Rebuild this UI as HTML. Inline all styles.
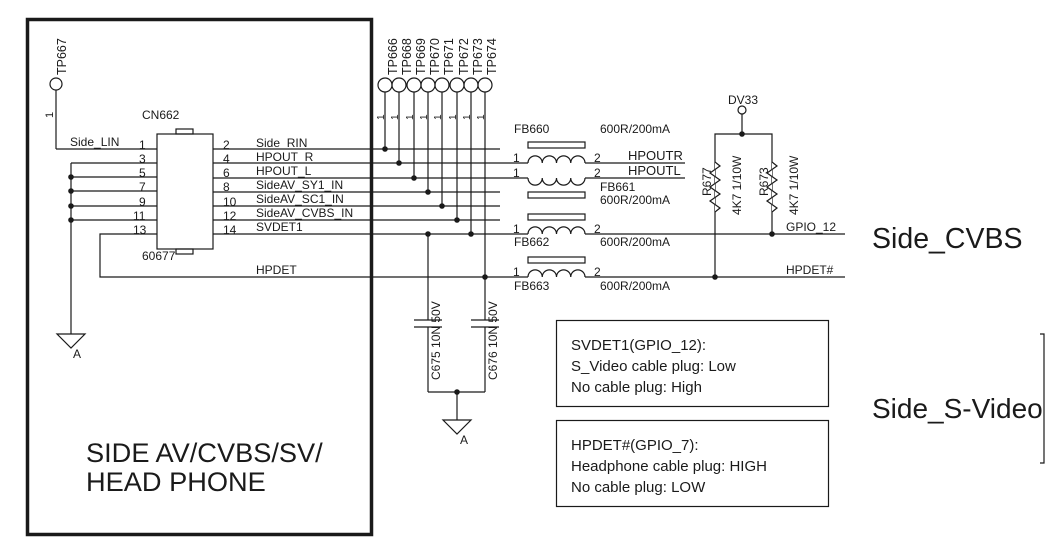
<!DOCTYPE html>
<html><head><meta charset="utf-8"><style>
html,body{margin:0;padding:0;background:#fff;}
svg{display:block;}
text{font-family:"Liberation Sans",Arial,sans-serif;fill:#1a1a1a;}
</style></head><body>
<svg width="1047" height="553" viewBox="0 0 1047 553" xmlns="http://www.w3.org/2000/svg">
<rect width="1047" height="553" fill="#fff"/>
<rect x="27.5" y="19.5" width="344" height="515" fill="none" stroke="#1a1a1a" stroke-width="3.5"/>
<g stroke="#1a1a1a" stroke-width="1.2" fill="none">
<circle cx="56" cy="84" r="6"/>
<line x1="56" y1="90" x2="56" y2="149"/>
<line x1="56" y1="149" x2="157" y2="149"/>
<rect x="157" y="134" width="56" height="115"/>
<rect x="176" y="129" width="17" height="5"/>
<rect x="176" y="249" width="17" height="5"/>
<line x1="71" y1="163" x2="157" y2="163"/>
<line x1="71" y1="177" x2="157" y2="177"/>
<line x1="71" y1="191" x2="157" y2="191"/>
<line x1="71" y1="206" x2="157" y2="206"/>
<line x1="71" y1="220" x2="157" y2="220"/>
<line x1="71" y1="163" x2="71" y2="334"/>
<path d="M57 334 L85 334 L71 348 Z"/>
<polyline points="157,234 100,234 100,277 528,277"/>
<line x1="585" y1="277" x2="845" y2="277"/>
<line x1="213" y1="149" x2="500" y2="149"/>
<line x1="213" y1="163" x2="528" y2="163"/>
<line x1="213" y1="178" x2="528" y2="178"/>
<line x1="213" y1="192" x2="500" y2="192"/>
<line x1="213" y1="206" x2="500" y2="206"/>
<line x1="213" y1="220" x2="500" y2="220"/>
<line x1="213" y1="234" x2="528" y2="234"/>
<line x1="585" y1="163" x2="685" y2="163"/>
<line x1="585" y1="178" x2="685" y2="178"/>
<line x1="585" y1="234" x2="845" y2="234"/>
<circle cx="385" cy="85" r="7"/><circle cx="399" cy="85" r="7"/><circle cx="414" cy="85" r="7"/><circle cx="428" cy="85" r="7"/>
<circle cx="442" cy="85" r="7"/><circle cx="457" cy="85" r="7"/><circle cx="471" cy="85" r="7"/><circle cx="485" cy="85" r="7"/>
<line x1="385" y1="92" x2="385" y2="149"/>
<line x1="399" y1="92" x2="399" y2="163"/>
<line x1="414" y1="92" x2="414" y2="178"/>
<line x1="428" y1="92" x2="428" y2="192"/>
<line x1="442" y1="92" x2="442" y2="206"/>
<line x1="457" y1="92" x2="457" y2="220"/>
<line x1="471" y1="92" x2="471" y2="234"/>
<line x1="485" y1="92" x2="485" y2="277"/>
<line x1="428" y1="234" x2="428" y2="320"/>
<line x1="414" y1="320" x2="442" y2="320"/>
<line x1="414" y1="327" x2="442" y2="327"/>
<line x1="428" y1="327" x2="428" y2="392"/>
<line x1="485" y1="277" x2="485" y2="320"/>
<line x1="471" y1="320" x2="499" y2="320"/>
<line x1="471" y1="327" x2="499" y2="327"/>
<line x1="485" y1="327" x2="485" y2="392"/>
<line x1="428" y1="392" x2="485" y2="392"/>
<line x1="457" y1="392" x2="457" y2="420"/>
<path d="M443 420 L471 420 L457 434 Z"/>
<rect x="528" y="142" width="57" height="6"/>
<rect x="528" y="192" width="57" height="6"/>
<rect x="528" y="214" width="57" height="6"/>
<rect x="528" y="257" width="57" height="6"/>
<path d="M528 163 a7.1 7.1 0 0 1 14.25 0 a7.1 7.1 0 0 1 14.25 0 a7.1 7.1 0 0 1 14.25 0 a7.1 7.1 0 0 1 14.25 0"/>
<path d="M528 178 a7.1 7.1 0 0 0 14.25 0 a7.1 7.1 0 0 0 14.25 0 a7.1 7.1 0 0 0 14.25 0 a7.1 7.1 0 0 0 14.25 0"/>
<path d="M528 234 a7.1 7.1 0 0 1 14.25 0 a7.1 7.1 0 0 1 14.25 0 a7.1 7.1 0 0 1 14.25 0 a7.1 7.1 0 0 1 14.25 0"/>
<path d="M528 277 a7.1 7.1 0 0 1 14.25 0 a7.1 7.1 0 0 1 14.25 0 a7.1 7.1 0 0 1 14.25 0 a7.1 7.1 0 0 1 14.25 0"/>
<circle cx="742" cy="110" r="4"/>
<line x1="742" y1="114" x2="742" y2="134"/>
<polyline points="715,277 715,134 772,134 772,234"/>
<path d="M715 162 l5 4 l-10 7 l10 7 l-10 7 l10 7 l-10 7 l10 7 l-5 4" fill="#fff"/>
<path d="M772 162 l5 4 l-10 7 l10 7 l-10 7 l10 7 l-10 7 l10 7 l-5 4" fill="#fff"/>
<rect x="556.5" y="320.5" width="272" height="86"/>
<rect x="556.5" y="420.5" width="272" height="86"/>
<polyline points="1040,334 1044,334 1044,463 1040,463"/>
</g>
<g fill="#1a1a1a">
<circle cx="71" cy="177" r="2.8"/><circle cx="71" cy="191" r="2.8"/><circle cx="71" cy="206" r="2.8"/><circle cx="71" cy="220" r="2.8"/>
<circle cx="385" cy="149" r="2.8"/><circle cx="399" cy="163" r="2.8"/><circle cx="414" cy="178" r="2.8"/><circle cx="428" cy="192" r="2.8"/>
<circle cx="442" cy="206" r="2.8"/><circle cx="457" cy="220" r="2.8"/><circle cx="471" cy="234" r="2.8"/><circle cx="428" cy="234" r="2.8"/>
<circle cx="485" cy="277" r="2.8"/><circle cx="457" cy="392" r="2.8"/>
<circle cx="742" cy="134" r="2.8"/><circle cx="772" cy="234" r="2.8"/><circle cx="715" cy="277" r="2.8"/>
</g>
<g font-size="12">
<text x="66" y="75" transform="rotate(-90 66 75)" font-size="12.5">TP667</text>
<text x="53" y="118" transform="rotate(-90 53 118)" font-size="11">1</text>
<text x="142" y="119">CN662</text>
<text x="70" y="146">Side_LIN</text>
<text x="139" y="149">1</text>
<text x="139" y="163">3</text>
<text x="139" y="177">5</text>
<text x="139" y="191">7</text>
<text x="139" y="206">9</text>
<text x="133" y="220">11</text>
<text x="133" y="234">13</text>
<text x="142" y="260">60677</text>
<text x="223" y="149">2</text>
<text x="223" y="163">4</text>
<text x="223" y="177">6</text>
<text x="223" y="191">8</text>
<text x="223" y="206">10</text>
<text x="223" y="220">12</text>
<text x="223" y="234">14</text>
<text x="256" y="147">Side_RIN</text>
<text x="256" y="161">HPOUT_R</text>
<text x="256" y="175">HPOUT_L</text>
<text x="256" y="189">SideAV_SY1_IN</text>
<text x="256" y="203">SideAV_SC1_IN</text>
<text x="256" y="217">SideAV_CVBS_IN</text>
<text x="256" y="231">SVDET1</text>
<text x="256" y="274">HPDET</text>
</g>
<g font-size="12.5">
<text x="397" y="75" transform="rotate(-90 397 75)">TP666</text>
<text x="411" y="75" transform="rotate(-90 411 75)">TP668</text>
<text x="425" y="75" transform="rotate(-90 425 75)">TP669</text>
<text x="439" y="75" transform="rotate(-90 439 75)">TP670</text>
<text x="453" y="75" transform="rotate(-90 453 75)">TP671</text>
<text x="468" y="75" transform="rotate(-90 468 75)">TP672</text>
<text x="482" y="75" transform="rotate(-90 482 75)">TP673</text>
<text x="496" y="75" transform="rotate(-90 496 75)">TP674</text>
</g>
<g font-size="10">
<text x="384" y="120" transform="rotate(-90 384 120)">1</text>
<text x="398" y="120" transform="rotate(-90 398 120)">1</text>
<text x="413" y="120" transform="rotate(-90 413 120)">1</text>
<text x="427" y="120" transform="rotate(-90 427 120)">1</text>
<text x="441" y="120" transform="rotate(-90 441 120)">1</text>
<text x="456" y="120" transform="rotate(-90 456 120)">1</text>
<text x="470" y="120" transform="rotate(-90 470 120)">1</text>
<text x="484" y="120" transform="rotate(-90 484 120)">1</text>
</g>
<g font-size="12">
<text x="440" y="380" transform="rotate(-90 440 380)">C675  10N 50V</text>
<text x="497" y="380" transform="rotate(-90 497 380)">C676  10N 50V</text>
<text x="73" y="358">A</text>
<text x="460" y="444">A</text>
<text x="514" y="133">FB660</text>
<text x="600" y="133">600R/200mA</text>
<text x="513" y="162">1</text>
<text x="594" y="162">2</text>
<text x="513" y="177">1</text>
<text x="594" y="177">2</text>
<text x="628" y="160" font-size="13">HPOUTR</text>
<text x="628" y="175" font-size="13">HPOUTL</text>
<text x="600" y="191">FB661</text>
<text x="600" y="204">600R/200mA</text>
<text x="513" y="233">1</text>
<text x="594" y="233">2</text>
<text x="514" y="246">FB662</text>
<text x="600" y="246">600R/200mA</text>
<text x="513" y="276">1</text>
<text x="594" y="276">2</text>
<text x="514" y="290">FB663</text>
<text x="600" y="290">600R/200mA</text>
<text x="728" y="104">DV33</text>
<text x="711" y="196" transform="rotate(-90 711 196)">R677</text>
<text x="741" y="215" transform="rotate(-90 741 215)">4K7 1/10W</text>
<text x="768" y="196" transform="rotate(-90 768 196)">R673</text>
<text x="798" y="215" transform="rotate(-90 798 215)">4K7 1/10W</text>
<text x="786" y="231">GPIO_12</text>
<text x="786" y="274">HPDET#</text>
</g>
<text x="872" y="248" font-size="28.5">Side_CVBS</text>
<text x="872" y="418" font-size="28">Side_S-Video</text>
<text x="86" y="462" font-size="27.2">SIDE AV/CVBS/SV/</text>
<text x="86" y="491" font-size="27.2">HEAD PHONE</text>
<g font-size="15">
<text x="571" y="350">SVDET1(GPIO_12):</text>
<text x="571" y="371">S_Video cable plug: Low</text>
<text x="571" y="392">No cable plug: High</text>
<text x="571" y="450">HPDET#(GPIO_7):</text>
<text x="571" y="471">Headphone cable plug: HIGH</text>
<text x="571" y="492">No cable plug: LOW</text>
</g>
</svg>
</body></html>
